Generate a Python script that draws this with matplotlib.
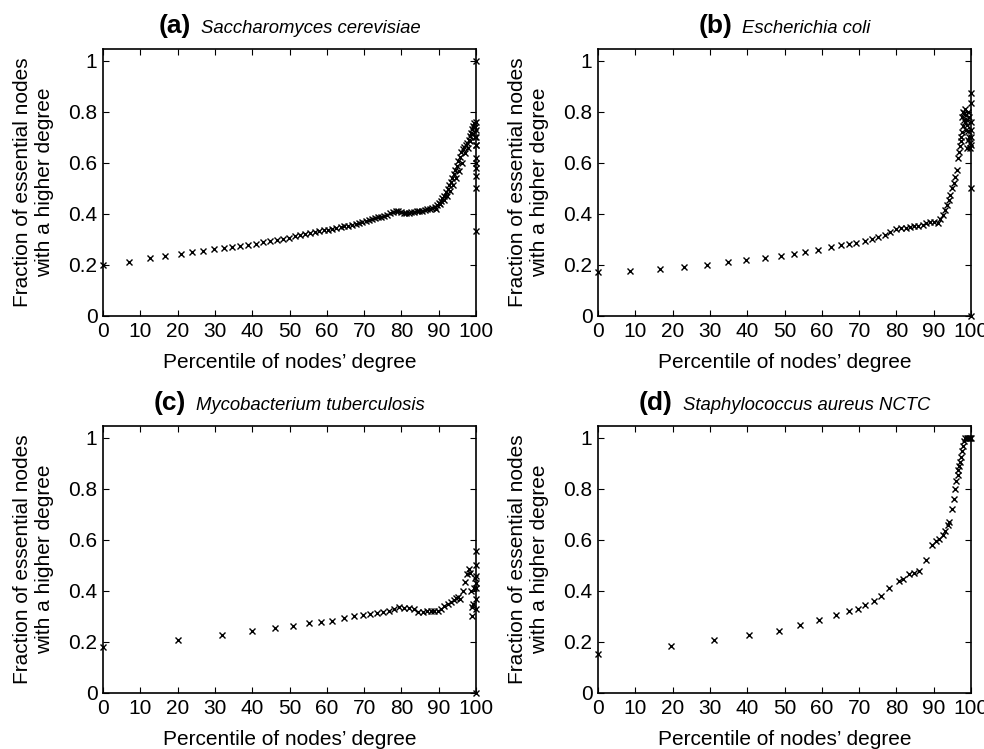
import matplotlib
matplotlib.use("Agg")
import matplotlib.pyplot as plt
from matplotlib.ticker import FuncFormatter

plt.rcParams['font.family'] = ['Liberation Sans', 'DejaVu Sans']

# (a) Saccharomyces cerevisiae
a_x = [0, 7.0, 12.5, 16.7, 20.8, 23.9, 26.9, 29.8, 32.4, 34.6, 36.7, 38.9, 41.0, 43.0,
       44.8, 46.6, 48.3, 49.9, 51.4, 52.8, 54.2, 55.5, 56.8, 58.0, 59.2, 60.4, 61.5,
       62.6, 63.7, 64.7, 65.7, 66.7, 67.7, 68.6, 69.5, 70.4, 71.3, 72.2, 73.0, 73.8,
       74.6, 75.4, 76.2, 77.0, 77.8, 78.5, 79.2, 79.9, 80.6, 81.3, 82.0, 82.7, 83.4,
       84.1, 84.8, 85.5, 86.2, 86.9, 87.6, 88.3, 88.9, 89.5, 90.0, 90.5, 91.0, 91.5,
       92.0, 92.4, 92.8, 93.2, 93.6, 94.0, 94.4, 94.8, 95.2, 95.6, 96.0, 96.4, 96.8,
       97.2, 97.6, 98.0, 98.3, 98.6, 98.9, 99.2, 99.5, 99.7, 99.8, 99.9,
       89.2, 90.3, 91.3, 92.3, 93.0, 93.8, 94.6, 95.4, 96.2, 97.0, 97.8, 98.5, 99.1,
       100, 100, 100, 100, 100, 100, 100, 100, 100, 100, 100]
a_y = [0.200, 0.213, 0.226, 0.235, 0.242, 0.250, 0.256, 0.261, 0.267, 0.271, 0.275, 0.280,
       0.284, 0.289, 0.294, 0.299, 0.303, 0.307, 0.312, 0.316, 0.320, 0.324, 0.328, 0.332,
       0.336, 0.339, 0.342, 0.345, 0.348, 0.351, 0.354, 0.357, 0.361, 0.364, 0.368, 0.371,
       0.375, 0.379, 0.383, 0.387, 0.390, 0.394, 0.398, 0.402, 0.407, 0.411, 0.411, 0.408,
       0.405, 0.404, 0.405, 0.407, 0.408, 0.410, 0.412, 0.413, 0.415, 0.418, 0.420, 0.422,
       0.428, 0.436, 0.445, 0.452, 0.462, 0.472, 0.485, 0.498, 0.512, 0.525, 0.540, 0.555,
       0.572, 0.590, 0.608, 0.625, 0.642, 0.655, 0.664, 0.672, 0.680, 0.692, 0.705, 0.718,
       0.732, 0.745, 0.758, 0.740, 0.700, 0.670,
       0.420, 0.440, 0.455, 0.470, 0.490, 0.515, 0.540, 0.570, 0.600, 0.640, 0.660, 0.685, 0.712,
       1.0, 0.76, 0.73, 0.70, 0.67, 0.62, 0.60, 0.58, 0.55, 0.50, 0.333]

# (b) Escherichia coli
b_x = [0, 8.5, 16.5, 23.0, 29.3, 34.8, 39.8, 44.8, 49.0, 52.6, 55.5, 59.1, 62.4, 65.1,
       67.3, 69.2, 71.7, 73.5, 75.2, 76.9, 78.4, 80.0, 81.3, 82.5, 83.6, 84.6, 85.8,
       87.0, 88.0, 89.1, 90.1, 91.2, 91.8, 92.4, 93.0, 93.5, 94.0, 94.5, 95.0, 95.4,
       95.8, 96.2, 96.6, 96.8, 97.0, 97.2, 97.4, 97.6, 97.8, 98.0, 98.2, 98.4, 98.6,
       98.8, 99.0, 99.2, 99.4, 99.6, 99.8, 97.5, 97.9, 98.3, 98.7, 99.1, 99.4, 98.9, 99.3,
       100, 100, 100, 100, 100, 100, 100, 100]
b_y = [0.174, 0.178, 0.183, 0.191, 0.200, 0.210, 0.220, 0.229, 0.236, 0.243, 0.250, 0.259,
       0.272, 0.278, 0.282, 0.286, 0.295, 0.303, 0.311, 0.319, 0.328, 0.340, 0.344, 0.346,
       0.350, 0.354, 0.354, 0.357, 0.366, 0.370, 0.367, 0.365, 0.380, 0.395, 0.415, 0.435,
       0.455, 0.475, 0.500, 0.520, 0.545, 0.572, 0.620, 0.645, 0.665, 0.685, 0.700, 0.720,
       0.745, 0.770, 0.795, 0.810, 0.790, 0.770, 0.750, 0.725, 0.700, 0.680, 0.660,
       0.780, 0.800, 0.760, 0.730, 0.800, 0.780, 0.660, 0.690,
       0.875, 0.835, 0.760, 0.730, 0.700, 0.670, 0.500, 0.0]

# (c) Mycobacterium tuberculosis
c_x = [0, 20.1, 32.0, 40.0, 46.0, 51.0, 55.1, 58.4, 61.5, 64.6, 67.3, 69.6, 71.6, 73.4,
       75.2, 76.7, 78.1, 79.4, 80.8, 82.1, 83.4, 84.5, 85.7, 86.8, 87.9, 88.8, 89.7,
       90.6, 91.5, 92.4, 93.3, 94.0, 94.6, 95.3, 95.8, 96.4, 97.0, 97.6, 98.0, 98.5,
       98.7, 98.8, 99.0, 99.2, 99.4, 99.6,
       100, 100, 100, 100, 100, 100, 100, 100]
c_y = [0.180, 0.206, 0.228, 0.245, 0.255, 0.264, 0.273, 0.279, 0.284, 0.296, 0.300, 0.306,
       0.310, 0.313, 0.319, 0.323, 0.329, 0.336, 0.333, 0.333, 0.328, 0.316, 0.318, 0.320,
       0.323, 0.323, 0.320, 0.331, 0.340, 0.349, 0.357, 0.365, 0.372, 0.378, 0.368, 0.401,
       0.434, 0.466, 0.486, 0.469, 0.400, 0.336, 0.300, 0.350, 0.410, 0.450,
       0.555, 0.500, 0.460, 0.430, 0.410, 0.370, 0.330, 0.0]

# (d) Staphylococcus aureus NCTC
d_x = [0, 19.6, 31.1, 40.5, 48.5, 54.2, 59.3, 63.7, 67.3, 69.8, 71.5, 74.0, 76.0, 78.0,
       80.6, 81.8, 83.4, 84.8, 86.1, 87.9, 89.5, 90.6, 91.5, 92.4, 93.1, 93.7, 94.2,
       94.9, 95.4, 95.8, 96.1, 96.4, 96.6, 96.8, 97.0, 97.3, 97.6, 97.9, 98.2, 98.5,
       98.8, 99.1, 99.4, 99.7, 100]
d_y = [0.154, 0.183, 0.206, 0.228, 0.245, 0.265, 0.285, 0.307, 0.321, 0.330, 0.345, 0.359,
       0.380, 0.412, 0.439, 0.448, 0.467, 0.470, 0.480, 0.523, 0.582, 0.598, 0.604, 0.620,
       0.637, 0.657, 0.672, 0.722, 0.760, 0.800, 0.830, 0.855, 0.875, 0.890, 0.905, 0.925,
       0.950, 0.970, 0.990, 1.0, 1.0, 1.0, 1.0, 1.0, 1.0]

panels = [
    ("(a)", "Saccharomyces cerevisiae", a_x, a_y),
    ("(b)", "Escherichia coli", b_x, b_y),
    ("(c)", "Mycobacterium tuberculosis", c_x, c_y),
    ("(d)", "Staphylococcus aureus NCTC", d_x, d_y),
]

W, H = 984, 749
fig = plt.figure(figsize=(W / 100, H / 100), dpi=100)
# axes boxes in pixels: left, top, right, bottom
boxes = [(103, 49, 476, 316), (598, 49, 971, 316),
         (103, 426, 476, 693), (598, 426, 971, 693)]

fmt = FuncFormatter(lambda v, p: "%g" % v)
renderer = fig.canvas.get_renderer()

for (tag, name, xs, ys), (l, t, r, b) in zip(panels, boxes):
    ax = fig.add_axes([l / W, (H - b) / H, (r - l) / W, (b - t) / H])
    ax.plot(xs, ys, 'x', color='black', ms=5, mew=1.0, clip_on=False)
    ax.set_xlim(0, 100)
    ax.set_ylim(0, 1.047)
    ax.set_xticks(range(0, 101, 10))
    ax.set_yticks([0, 0.2, 0.4, 0.6, 0.8, 1])
    ax.yaxis.set_major_formatter(fmt)
    ax.tick_params(direction='in', top=True, right=True, length=4, width=0.8,
                   labelsize=15, pad=4)
    for s in ax.spines.values():
        s.set_linewidth(1.2)
    ax.set_xlabel("Percentile of nodes\u2019 degree", fontsize=15, labelpad=9)
    ax.set_ylabel("Fraction of essential nodes\nwith a higher degree", fontsize=15,
                  labelpad=10)

    # two-part title: bold tag + italic species name
    t1 = fig.text(0, 0, tag, fontsize=19, fontweight='bold')
    t2 = fig.text(0, 0, name, fontsize=13.3, fontstyle='italic')
    w1 = t1.get_window_extent(renderer).width
    w2 = t2.get_window_extent(renderer).width
    gap = 10
    cx = (l + r) / 2
    x0 = cx - (w1 + gap + w2) / 2
    base = t - 16
    t1.set_position((x0 / W, (H - base) / H))
    t2.set_position(((x0 + w1 + gap) / W, (H - base) / H))
    t1.set_va('baseline')
    t2.set_va('baseline')

fig.savefig("out.png", dpi=100)
